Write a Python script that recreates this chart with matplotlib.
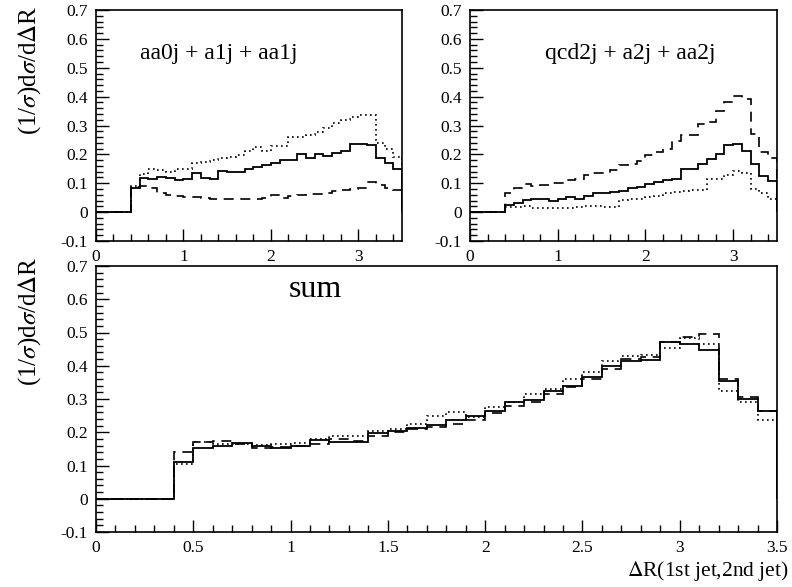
import numpy as np
import matplotlib
matplotlib.use("Agg")
import matplotlib.pyplot as plt
from matplotlib.ticker import MultipleLocator

plt.rcParams["font.family"] = ["Liberation Serif", "DejaVu Serif"]
plt.rcParams["mathtext.fontset"] = "stix"

# bin edges: 0.0 .. 3.5 in steps of 0.1
bin_edges = np.round(np.arange(0.0, 3.5001, 0.1), 1)

# top-left: aa0j + a1j + aa1j
tl_solid = [0, 0, 0, 0, 0.082, 0.117, 0.113, 0.122, 0.117, 0.111, 0.113, 0.134, 0.117,
            0.113, 0.143, 0.140, 0.140, 0.151, 0.157, 0.163, 0.169, 0.180, 0.180, 0.200,
            0.186, 0.203, 0.194, 0.205, 0.213, 0.237, 0.235, 0.233, 0.189, 0.171, 0.151]
tl_dotted = [0, 0, 0, 0, 0.090, 0.132, 0.151, 0.145, 0.140, 0.148, 0.151, 0.169, 0.175,
             0.182, 0.186, 0.190, 0.198, 0.210, 0.226, 0.210, 0.230, 0.230, 0.261, 0.261,
             0.267, 0.278, 0.290, 0.307, 0.319, 0.328, 0.336, 0.336, 0.238, 0.218, 0.190]
tl_dashed = [0, 0, 0, 0, 0.088, 0.090, 0.083, 0.065, 0.058, 0.056, 0.054, 0.052, 0.049,
             0.047, 0.047, 0.047, 0.047, 0.047, 0.047, 0.050, 0.058, 0.050, 0.055, 0.060,
             0.063, 0.063, 0.067, 0.073, 0.075, 0.080, 0.083, 0.105, 0.093, 0.083, 0.076]

# top-right: qcd2j + a2j + aa2j
tr_solid = [0, 0, 0, 0, 0.024, 0.033, 0.042, 0.044, 0.044, 0.038, 0.045, 0.051, 0.047,
            0.055, 0.065, 0.065, 0.068, 0.073, 0.082, 0.088, 0.097, 0.105, 0.111, 0.115,
            0.151, 0.151, 0.168, 0.183, 0.200, 0.232, 0.235, 0.212, 0.165, 0.126, 0.107]
tr_dashed = [0, 0, 0, 0, 0.067, 0.084, 0.097, 0.090, 0.093, 0.100, 0.100, 0.110, 0.116,
             0.128, 0.137, 0.136, 0.145, 0.163, 0.168, 0.178, 0.197, 0.209, 0.220, 0.245,
             0.266, 0.266, 0.305, 0.313, 0.350, 0.382, 0.401, 0.391, 0.272, 0.209, 0.186]
tr_dotted = [0, 0, 0, 0, 0.018, 0.018, 0.021, 0.016, 0.013, 0.013, 0.016, 0.016, 0.018,
             0.021, 0.021, 0.018, 0.018, 0.042, 0.044, 0.047, 0.053, 0.057, 0.065, 0.070,
             0.074, 0.078, 0.078, 0.116, 0.116, 0.128, 0.143, 0.134, 0.080, 0.067, 0.046]

# bottom: sum
sum_solid = [0, 0, 0, 0, 0.110, 0.152, 0.160, 0.168, 0.160, 0.152, 0.158, 0.178, 0.170,
             0.172, 0.198, 0.204, 0.212, 0.222, 0.236, 0.248, 0.265, 0.290, 0.298, 0.325,
             0.340, 0.365, 0.398, 0.415, 0.416, 0.470, 0.466, 0.448, 0.353, 0.300, 0.265]
sum_dotted = [0, 0, 0, 0, 0.105, 0.170, 0.165, 0.165, 0.162, 0.165, 0.168, 0.180, 0.190,
              0.190, 0.205, 0.210, 0.225, 0.250, 0.260, 0.245, 0.275, 0.290, 0.315, 0.330,
              0.360, 0.380, 0.415, 0.430, 0.433, 0.453, 0.483, 0.464, 0.324, 0.292, 0.238]
sum_dashed = [0, 0, 0, 0, 0.140, 0.170, 0.175, 0.165, 0.152, 0.155, 0.160, 0.165, 0.180,
              0.175, 0.190, 0.200, 0.210, 0.215, 0.225, 0.238, 0.258, 0.280, 0.290, 0.315,
              0.335, 0.360, 0.390, 0.420, 0.425, 0.470, 0.485, 0.496, 0.361, 0.307, 0.265]

ylabel = r"(1/$\sigma$)d$\sigma$/d$\Delta$R"

W, H = 792, 587
fig = plt.figure(figsize=(W / 100, H / 100), dpi=100)


def px_axes(x0, x1, y0, y1):
    return fig.add_axes([x0 / W, 1 - y1 / H, (x1 - x0) / W, (y1 - y0) / H])


def style(ax, xmajor, xminor):
    ax.set_xlim(0, 3.5)
    ax.set_ylim(-0.1, 0.7)
    ax.xaxis.set_major_locator(MultipleLocator(xmajor))
    ax.xaxis.set_minor_locator(MultipleLocator(xminor))
    ax.yaxis.set_major_locator(MultipleLocator(0.1))
    ax.yaxis.set_minor_locator(MultipleLocator(0.02))
    ax.tick_params(which="both", direction="in", top=False, right=False,
                   labelsize=12.5, width=1)
    ax.tick_params(which="major", length=9, pad=6)
    ax.tick_params(which="minor", length=5)
    ax.xaxis.set_major_formatter(plt.FuncFormatter(lambda v, p: f"{v:g}"))
    ax.yaxis.set_major_formatter(plt.FuncFormatter(lambda v, p: f"{v:g}"))
    for s in ax.spines.values():
        s.set_linewidth(1.2)


def draw(ax, solid, dotted, dashed):
    ax.stairs(solid, bin_edges, color="black", lw=1.3)
    ax.stairs(dotted, bin_edges, color="black", lw=1.2, linestyle=(0, (1, 2)))
    ax.stairs(dashed, bin_edges, color="black", lw=1.2, linestyle=(0, (6, 4)))


ax1 = px_axes(96, 402, 10, 241)
style(ax1, 1, 0.2)
draw(ax1, tl_solid, tl_dotted, tl_dashed)
ax1.text(1.4, 0.55, "aa0j + a1j + aa1j", fontsize=17, ha="center", va="center")

ax2 = px_axes(470, 777, 10, 241)
style(ax2, 1, 0.2)
draw(ax2, tr_solid, tr_dotted, tr_dashed)
ax2.text(1.83, 0.55, "qcd2j + a2j + aa2j", fontsize=17, ha="center", va="center")

ax3 = px_axes(96, 777, 266, 532)
style(ax3, 0.5, 0.1)
draw(ax3, sum_solid, sum_dotted, sum_dashed)
ax3.text(1.13, 0.63, "sum", fontsize=23, ha="center", va="center")

fig.text(30 / W, 1 - 5 / H, ylabel, rotation=90, fontsize=18, ha="center", va="top")
fig.text(30 / W, 1 - 256 / H, ylabel, rotation=90, fontsize=18, ha="center", va="top")
fig.text(789 / W, 1 - 571 / H, r"$\Delta$R(1st jet,2nd jet)", fontsize=15.5,
         ha="right", va="center")

fig.savefig("out.png", dpi=100)
